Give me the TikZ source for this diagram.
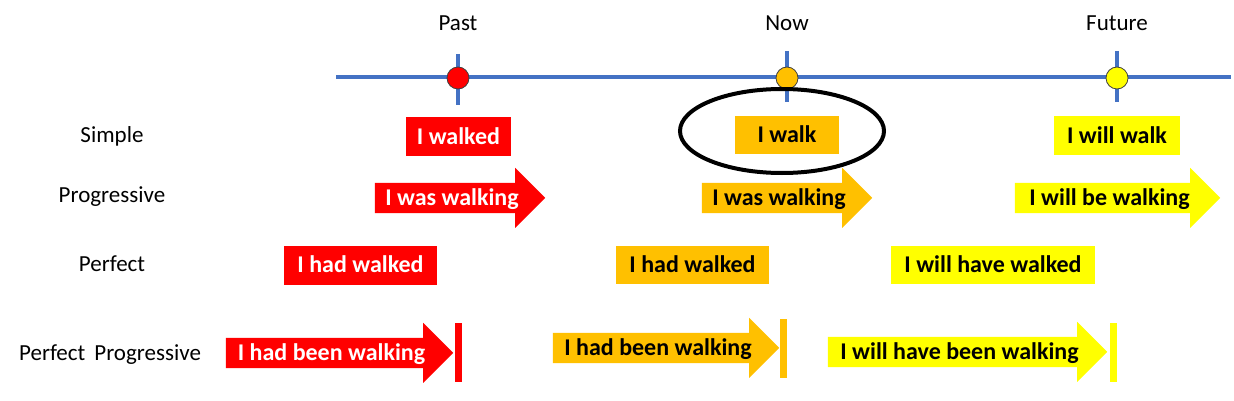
\documentclass[tikz,border=0pt]{standalone}
\usepackage{fontspec}
\setmainfont{Carlito}
\usepackage{xcolor}
\usepackage{tikz}
\usetikzlibrary{calc,backgrounds}

\definecolor{tred}{HTML}{FF0000}
\definecolor{torange}{HTML}{FFC000}
\definecolor{tyellow}{HTML}{FFFF00}
\definecolor{tblue}{HTML}{4472C4}

\begin{document}
\begin{tikzpicture}[
  x=1pt,y=-1pt,
  lbl/.style={font=\fontsize{23}{27}\selectfont,text height=14.6pt,text depth=0pt,inner sep=0pt},
  tense/.style={font=\fontsize{24}{28}\selectfont\bfseries,text height=15.2pt,text depth=0pt,inner sep=0pt,minimum height=39pt},
  shaft/.style={tense,minimum height=30pt},
  pastc/.style={fill=tred,text=white},
  nowc/.style={fill=torange,text=black},
  futc/.style={fill=tyellow,text=black},
  bar/.style={inner sep=0pt,minimum width=7pt,minimum height=59pt},
  dot/.style={circle,draw=black!75,line width=0.8pt,inner sep=0pt,minimum size=22pt},
  tline/.style={tblue,line width=4pt}
]
\useasboundingbox (0,0) rectangle (1234,401);

% time line
\coordinate (tl0) at (336,77);
\coordinate (tl1) at (1231,77);
\draw[tline] (tl0) -- (tl1);
\draw[tline] (458,54) -- (458,105);
\draw[tline] (787,51) -- (787,102);
\draw[tline] (1117,51) -- (1117,102);
\node[dot,fill=tred] (dpast) at (458,78) {};
\node[dot,fill=torange] (dnow) at (787,78) {};
\node[dot,fill=tyellow] (dfut) at (1117,78) {};
\node[lbl] (past) at (458,23.5) {Past};
\node[lbl] (now) at (787,23.5) {Now};
\node[lbl] (fut) at (1117,23.5) {Future};

% row labels
\node[lbl] (simple) at (112,135.5) {Simple};
\node[lbl] (prog) at (112,195) {Progressive};
\node[lbl] (perf) at (112,264.5) {Perfect};
\node[lbl] (perfprog) at (110,353.5) {Perfect\, Progressive};

% simple
\node[tense,pastc,minimum width=105pt] (ps) at (458.5,136.5) {I walked};
\node[tense,nowc,minimum width=104pt,minimum height=38pt] (ns) at (787,135) {I walk};
\node[tense,futc,minimum width=126pt] (fs) at (1117,135.5) {I will walk};
\draw[line width=4pt] (782,131) ellipse [x radius=102, y radius=42];

% progressive
\node[shaft,text=white,minimum width=154pt] (pr) at (452,198) {I was walking};
\node[shaft,minimum width=154pt] (nr) at (779,198) {I was walking};
\node[shaft,minimum width=189pt] (fr) at (1109.5,198) {I will be walking};

% perfect
\node[tense,pastc,minimum width=153pt] (pf) at (360.5,265) {I had walked};
\node[tense,nowc,minimum width=153pt,minimum height=38pt] (nf) at (692.5,265) {I had walked};
\node[tense,futc,minimum width=204pt,minimum height=38pt] (ff) at (993,265) {I will have walked};

% perfect progressive
\node[shaft,text=white,minimum width=211pt] (pp) at (331.5,353) {I had been walking};
\node[shaft,minimum width=210pt] (np) at (658,348) {I had been walking};
\node[shaft,minimum width=263pt] (fp) at (959.5,352) {I will have been walking};
\node[bar,fill=tred] (ppbar) at (458.5,352.5) {};
\node[bar,fill=torange] (npbar) at (783.5,348) {};
\node[bar,fill=tyellow] (fpbar) at (1113.5,352) {};

% block arrows behind the texts
\begin{scope}[on background layer]
\foreach \n/\c in {pr/tred,nr/torange,fr/tyellow,pp/tred,np/torange,fp/tyellow}
  \fill[\c] (\n.north west) -- ([xshift=-14pt]\n.north east) -- ++(0,-15)
    -- ++(30,30) -- ++(-30,30) -- ([xshift=-14pt]\n.south east) -- (\n.south west) -- cycle;
\end{scope}
\end{tikzpicture}
\end{document}
